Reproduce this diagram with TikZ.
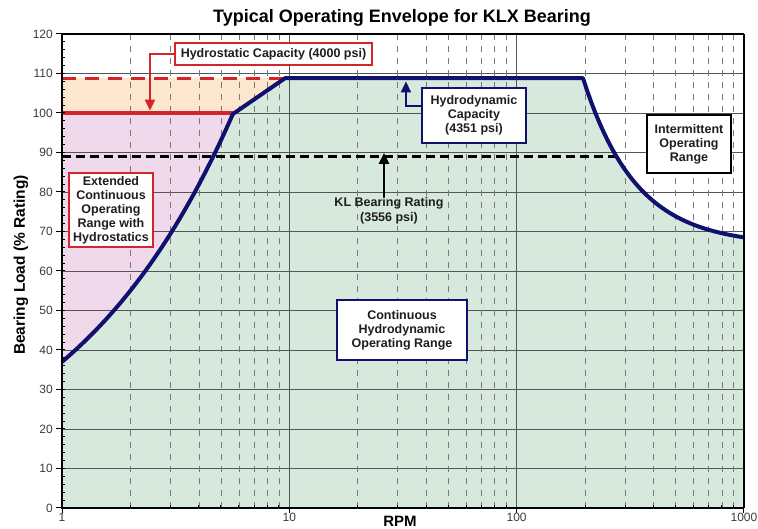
\documentclass[tikz,border=0pt]{standalone}
\usepackage{fontspec}
\setmainfont{Liberation Sans}
\usetikzlibrary{arrows.meta,calc}
\definecolor{navy}{RGB}{16,16,110}
\definecolor{redc}{RGB}{212,36,44}
\definecolor{greenf}{RGB}{214,233,220}
\definecolor{pinkf}{RGB}{241,217,236}
\definecolor{peachf}{RGB}{252,230,205}
\definecolor{gridc}{RGB}{85,85,85}
\definecolor{dashc}{RGB}{120,120,120}
\definecolor{txt}{RGB}{30,30,30}
\definecolor{ticktxt}{RGB}{60,60,60}
\tikzset{
  boxbase/.style={fill=white, line width=1.3pt, align=center, inner sep=1.5pt,
    text=txt, font=\fontsize{12.5}{14}\selectfont\bfseries},
  redbox/.style={boxbase, draw=redc},
  navybox/.style={boxbase, draw=navy},
  blackbox/.style={boxbase, draw=black},
  plainlbl/.style={align=center, inner sep=1pt, text=txt,
    font=\fontsize{12.5}{14.5}\selectfont\bfseries},
  ticklab/.style={text=ticktxt, inner sep=1pt, font=\fontsize{12}{14}\selectfont},
  envelope/.style={navy, line width=4pt, line join=round},
  callout/.style={line width=2pt, -{Triangle[length=11pt,width=10pt]}},
}
\begin{document}
\begin{tikzpicture}[x=1pt,y=1pt]
\useasboundingbox (0,0) rectangle (758,529);
\fill[white] (0,0) rectangle (758,529);
\begin{scope}[shift={(62pt,21pt)}, x=227.33pt, y=3.95pt]
  % fills
  \fill[greenf] (0,0) -- plot[domain=0:0.752,samples=40] (\x,{37*exp(2.3026*0.573*\x)})
    -- (0.981,108.8) -- (2.292,108.8)
    -- plot[domain=2.292:3,samples=40] (\x,{66.5+42.3*exp(-4.3*(\x-2.292))}) -- (3,0) -- cycle;
  \fill[pinkf] plot[domain=0:0.752,samples=40] (\x,{37*exp(2.3026*0.573*\x)}) -- (0,100) -- cycle;
  \fill[peachf] (0,100) -- (0.752,100) -- (0.981,108.8) -- (0,108.8) -- cycle;
  % grid
  \foreach \v in {10,20,...,110} \draw[gridc, line width=0.6pt] (0,\v) -- (3,\v);
  \foreach \d in {0,1,2} \foreach \k in {2,...,9}
    \draw[dashc, line width=0.7pt, dash pattern=on 6pt off 6pt] ({\d+log10(\k)},120) -- ({\d+log10(\k)},0);
  \draw[gridc, line width=0.8pt] (1,0) -- (1,120) (2,0) -- (2,120);
  % reference lines
  \draw[redc, line width=3.2pt, dash pattern=on 14pt off 9pt] (0,108.8) -- (0.981,108.8);
  \draw[redc, line width=3.2pt] (0,100) -- (0.752,100);
  \draw[black, line width=3.2pt, dash pattern=on 9pt off 5pt] (0,89) -- (2.446,89);
  % envelope
  \draw[envelope] plot[domain=0:0.752,samples=40] (\x,{37*exp(2.3026*0.573*\x)})
    -- (0.981,108.8) -- (2.292,108.8)
    -- plot[domain=2.292:3,samples=40] (\x,{66.5+42.3*exp(-4.3*(\x-2.292))});
  % frame and axes
  \draw[black, line width=2pt] (0,120) -- (3,120);
  \draw[black, line width=1.5pt] (3,0) -- (3,120);
  \draw[black, line width=2pt] (0,-0.2) -- (0,120.2);
  \draw[black, line width=2pt] (0,0) -- (3,0);
  \foreach \v in {0,10,...,120} \draw[line width=1pt] ([xshift=-6pt]0,\v) -- ([xshift=3pt]0,\v);
  \foreach \v in {2,4,...,118} \draw[line width=1pt] (0,\v) -- ++(3pt,0);
  \foreach \u in {0,1,2,3} \draw[line width=1pt] (\u,0) -- ++(0,-5pt);
  \foreach \d in {0,1,2} \foreach \k in {2,...,9}
    \draw[line width=1pt] ({\d+log10(\k)},0) -- ++(0,3pt);
  % tick labels
  \foreach \v in {0,10,...,120} \node[ticklab, anchor=east] (yl\v) at ([xshift=-8pt]0,\v) {\v};
  \node[ticklab, anchor=north] (xl1) at ([yshift=-4pt]0,0) {1};
  \node[ticklab, anchor=north] (xl10) at ([yshift=-4pt]1,0) {10};
  \node[ticklab, anchor=north] (xl100) at ([yshift=-4pt]2,0) {100};
  \node[ticklab, anchor=north] (xl1000) at ([yshift=-4pt]3,0) {1000};
  % arrow tips
  \coordinate (hsTip) at (0.387,100.6);
  \coordinate (hdTip) at (1.513,108.0);
  \coordinate (klTip) at (1.4165,89.9);
\end{scope}
% titles
\node[font=\fontsize{18}{20}\selectfont\bfseries] (title) at (402,511) {Typical Operating Envelope for KLX Bearing};
\node[rotate=90, font=\fontsize{15.5}{17}\selectfont\bfseries] (ylabel) at (21,264) {Bearing Load (\% Rating)};
\node[font=\fontsize{15}{17}\selectfont\bfseries] (xlabel) at (400,8) {RPM};
% boxes
\node[redbox, minimum width=197pt, minimum height=22pt] (hs) at (273.5,475) {Hydrostatic Capacity (4000 psi)};
\node[navybox, minimum width=104pt, minimum height=55pt] (hd) at (474,413.5) {Hydrodynamic\\Capacity\\(4351 psi)};
\node[blackbox, minimum width=84pt, minimum height=58pt] (ir) at (689,385) {Intermittent\\Operating\\Range};
\node[redbox, minimum width=84pt, minimum height=74pt] (ext) at (111,319) {Extended\\Continuous\\Operating\\Range with\\Hydrostatics};
\node[navybox, minimum width=130pt, minimum height=60pt] (cont) at (402,199) {Continuous\\Hydrodynamic\\Operating Range};
\node[plainlbl] (kl) at (389,318) {KL Bearing Rating\\(3556 psi)};
% callouts
\draw[callout, redc] (hs.west) -| (hsTip);
\draw[callout, navy] ([yshift=9.5pt]hd.west) -| (hdTip);
\draw[callout, black, line width=2.5pt] (kl.north -| klTip) -- (klTip);
\end{tikzpicture}
\end{document}
